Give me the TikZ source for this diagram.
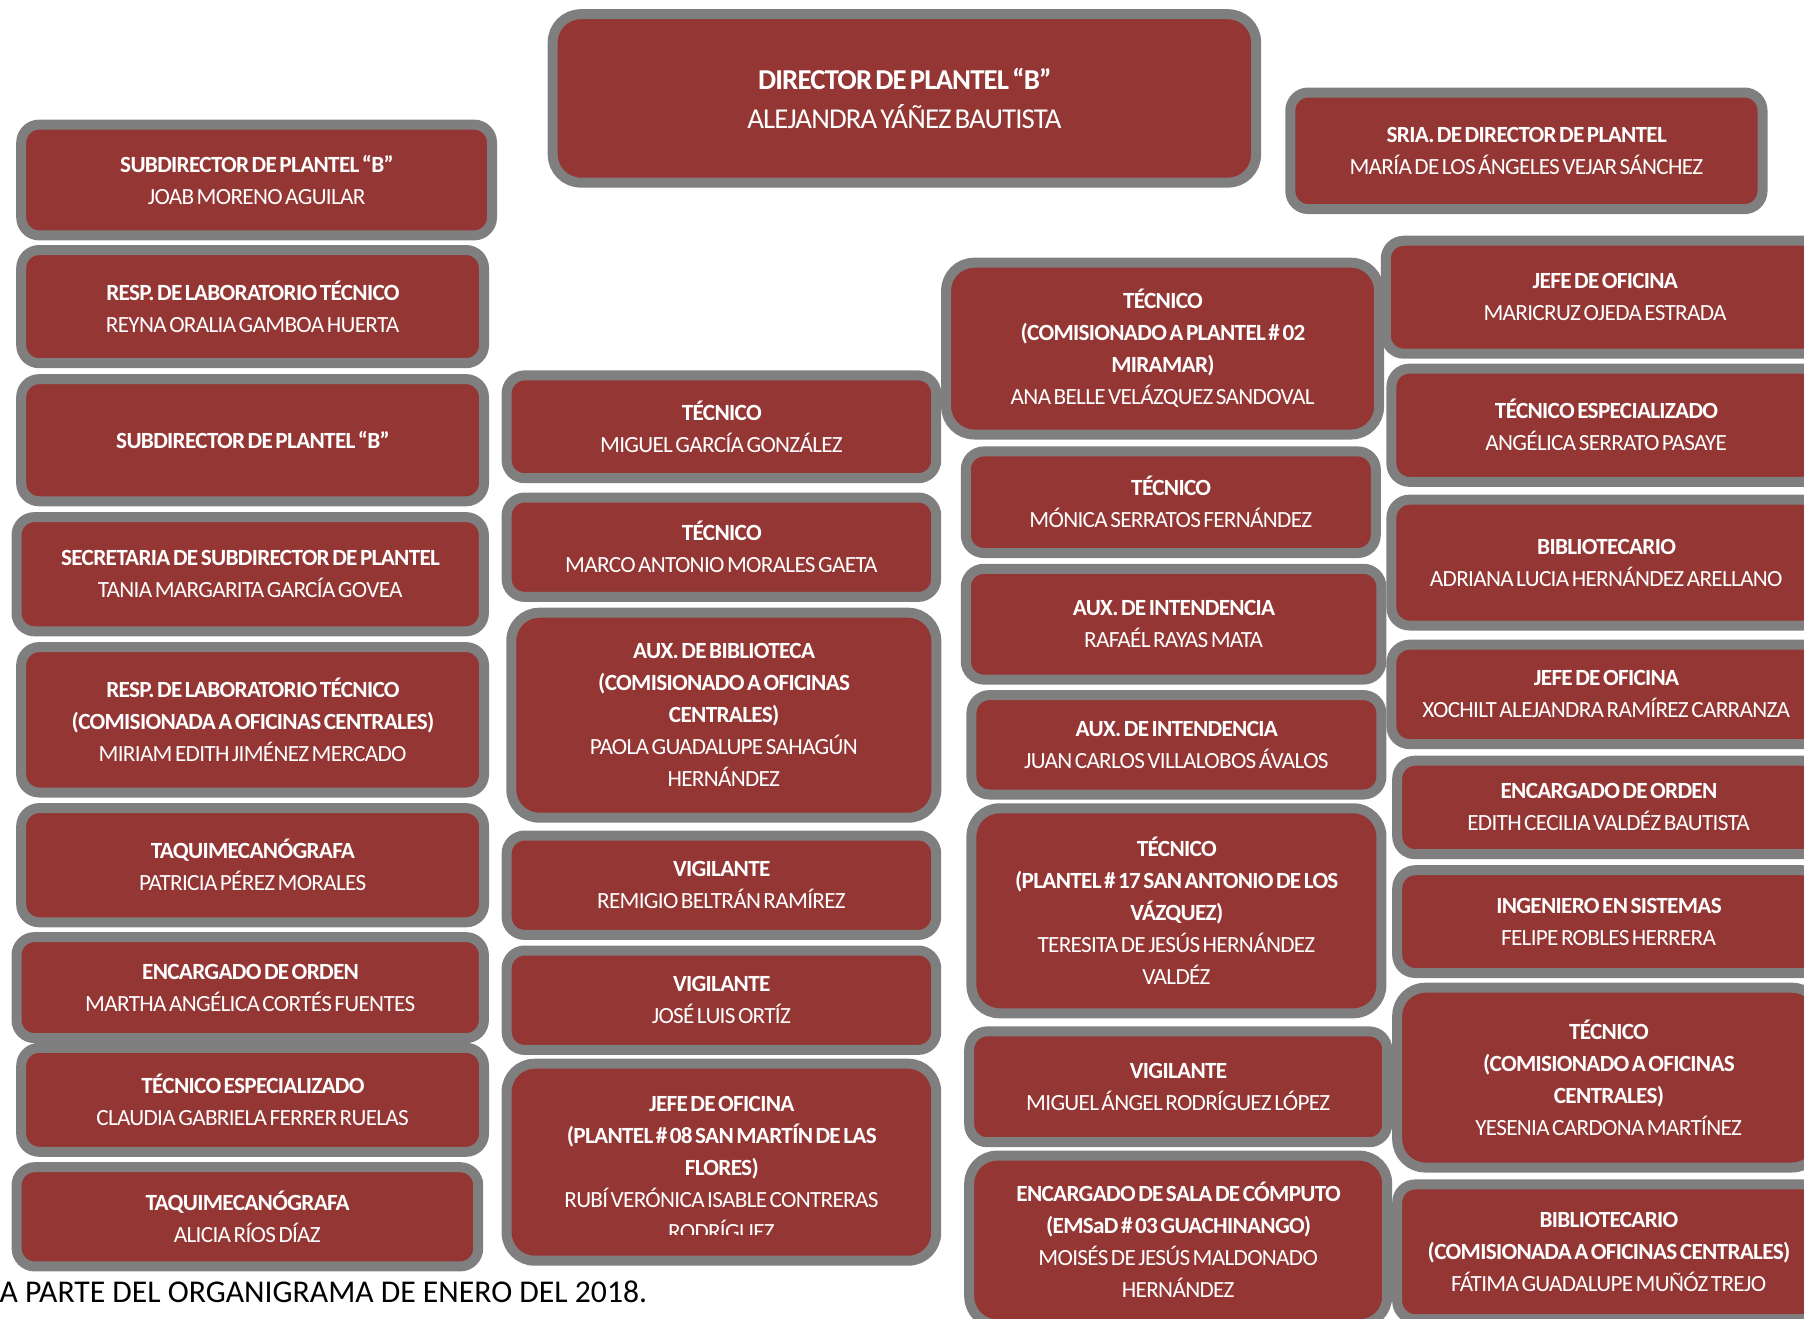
\documentclass[tikz,border=0pt]{standalone}
\usepackage{fontspec}
\setmainfont{Carlito}[LetterSpace=-3,WordSpace=0.55]
\newfontfamily\notefont{Carlito}
\definecolor{boxred}{HTML}{943634}
\definecolor{boxgrey}{HTML}{7F7F7F}
\tikzset{
  box/.style={draw=boxgrey, fill=boxred, line width=5pt, rounded corners=9pt,
    text=white, align=center, inner sep=0pt, font=\fontsize{11.6}{16}\selectfont},
  tall/.style={rounded corners=14pt},
  bignote/.style={font=\fontsize{14.4}{19.5}\selectfont},
}
\begin{document}
\begin{tikzpicture}[x=1pt,y=-1pt]
        \useasboundingbox (0,0) rectangle (902,659);
        \clip (0,0) rectangle (902,659);

        % top
        \draw (452.2, 49.2) node[box, tall, bignote, minimum width=351.7pt, minimum height=84.2pt] (director) {\textbf{DIRECTOR DE PLANTEL “B”}\\ ALEJANDRA YÁÑEZ BAUTISTA};
        \draw (763.2, 75.4) node[box, minimum width=236.1pt, minimum height=58.3pt] (sria) {\textbf{SRIA. DE DIRECTOR DE PLANTEL}\\ MARÍA DE LOS ÁNGELES VEJAR SÁNCHEZ};

        % left column
        \draw (128.3, 90.0) node[box, minimum width=235.4pt, minimum height=55.4pt] (subdir1) {\textbf{SUBDIRECTOR DE PLANTEL “B”}\\ JOAB MORENO AGUILAR};
        \draw (126.3, 153.3) node[box, minimum width=231.4pt, minimum height=56.6pt] (lab1) {\textbf{RESP. DE LABORATORIO TÉCNICO}\\ REYNA ORALIA GAMBOA HUERTA};
        \draw (126.3, 220.1) node[box, minimum width=231.4pt, minimum height=61.1pt] (subdir2) {\textbf{SUBDIRECTOR DE PLANTEL “B”}};
        \draw (125.1, 287.1) node[box, minimum width=233.7pt, minimum height=57.1pt] (secsub) {\textbf{SECRETARIA DE SUBDIRECTOR DE PLANTEL}\\ TANIA MARGARITA GARCÍA GOVEA};
        \draw (126.3, 359.9) node[box, minimum width=231.4pt, minimum height=72.7pt] (lab2) {\textbf{RESP. DE LABORATORIO TÉCNICO}\\ \textbf{(COMISIONADA A OFICINAS CENTRALES)}\\ MIRIAM EDITH JIMÉNEZ MERCADO};
        \draw (126.3, 432.6) node[box, minimum width=231.4pt, minimum height=57.1pt] (taqui1) {\textbf{TAQUIMECANÓGRAFA}\\ PATRICIA PÉREZ MORALES};
        \draw (125.1, 493.8) node[box, minimum width=233.7pt, minimum height=50.5pt] (orden1) {\textbf{ENCARGADO DE ORDEN}\\ MARTHA ANGÉLICA CORTÉS FUENTES};
        \draw (126.3, 549.9) node[box, minimum width=231.4pt, minimum height=52.0pt] (tecesp1) {\textbf{TÉCNICO ESPECIALIZADO}\\ CLAUDIA GABRIELA FERRER RUELAS};
        \draw (123.7, 608.4) node[box, minimum width=230.8pt, minimum height=49.6pt] (taqui2) {\textbf{TAQUIMECANÓGRAFA}\\ ALICIA RÍOS DÍAZ};

        % middle column
        \draw (360.7, 213.4) node[box, minimum width=214.8pt, minimum height=51.4pt] (tec1) {\textbf{TÉCNICO}\\ MIGUEL GARCÍA GONZÁLEZ};
        \draw (360.7, 273.6) node[box, minimum width=214.8pt, minimum height=49.7pt] (tec2) {\textbf{TÉCNICO}\\ MARCO ANTONIO MORALES GAETA};
        \draw (361.9, 357.6) node[box, tall, minimum width=212.5pt, minimum height=102.5pt] (auxbib) {\textbf{AUX. DE BIBLIOTECA}\\ \textbf{(COMISIONADO A OFICINAS}\\ \textbf{CENTRALES)}\\ PAOLA GUADALUPE SAHAGÚN\\ HERNÁNDEZ};
        \draw (360.7, 442.6) node[box, minimum width=214.8pt, minimum height=49.7pt] (vig1) {\textbf{VIGILANTE}\\ REMIGIO BELTRÁN RAMÍREZ};
        \draw (360.7, 500.1) node[box, minimum width=214.8pt, minimum height=49.7pt] (vig2) {\textbf{VIGILANTE}\\ JOSÉ LUIS ORTÍZ};
        \draw (360.7, 581.1) node[box, tall, minimum width=214.8pt, minimum height=98.5pt] (jefe1) {};
        \begin{scope}
          \clip (250, 530) rectangle (472, 617);
          \draw (360.7, 584) node[box, draw=none, fill=none] (jefe1txt) {\textbf{JEFE DE OFICINA}\\ \textbf{(PLANTEL \# 08 SAN MARTÍN DE LAS}\\ \textbf{FLORES)}\\ RUBÍ VERÓNICA ISABLE CONTRERAS\\ RODRÍGUEZ};
        \end{scope}

        % center-right column
        \draw (581.3, 174.3) node[box, tall, minimum width=216.5pt, minimum height=85.9pt] (tec3) {\textbf{TÉCNICO}\\ \textbf{(COMISIONADO A PLANTEL \# 02}\\ \textbf{MIRAMAR)}\\ ANA BELLE VELÁZQUEZ SANDOVAL};
        \draw (585.4, 251.1) node[box, minimum width=205pt, minimum height=50.8pt] (tec4) {\textbf{TÉCNICO}\\ MÓNICA SERRATOS FERNÁNDEZ};
        \draw (586.8, 312.1) node[box, minimum width=207.8pt, minimum height=55.4pt] (int1) {\textbf{AUX. DE INTENDENCIA}\\ RAFAÉL RAYAS MATA};
        \draw (588.2, 372.4) node[box, minimum width=205pt, minimum height=49.7pt] (int2) {\textbf{AUX. DE INTENDENCIA}\\ JUAN CARLOS VILLALOBOS ÁVALOS};
        \draw (588.2, 455.4) node[box, tall, minimum width=205pt, minimum height=102.5pt] (tec5) {\textbf{TÉCNICO}\\ \textbf{(PLANTEL \# 17 SAN ANTONIO DE LOS}\\ \textbf{VÁZQUEZ)}\\ TERESITA DE JESÚS HERNÁNDEZ\\ VALDÉZ};
        \draw (589.1, 543.4) node[box, minimum width=209pt, minimum height=55.4pt] (vig3) {\textbf{VIGILANTE}\\ MIGUEL ÁNGEL RODRÍGUEZ LÓPEZ};
        \draw (589.1, 620.0) node[box, tall, minimum width=209pt, minimum height=84.4pt] (computo) {\textbf{ENCARGADO DE SALA DE CÓMPUTO}\\ \textbf{(EMSaD \# 03 GUACHINANGO)}\\ MOISÉS DE JESÚS MALDONADO\\ HERNÁNDEZ};

        % right column
        \draw (802.5, 148.6) node[box, minimum width=219.2pt, minimum height=56.5pt] (jefe2) {\textbf{JEFE DE OFICINA}\\ MARICRUZ OJEDA ESTRADA};
        \draw (803.1, 212.6) node[box, minimum width=214.8pt, minimum height=56.6pt] (tecesp2) {\textbf{TÉCNICO ESPECIALIZADO}\\ ANGÉLICA SERRATO PASAYE};
        \draw (803.1, 281.3) node[box, minimum width=214.8pt, minimum height=62.9pt] (biblio1) {\textbf{BIBLIOTECARIO}\\ ADRIANA LUCIA HERNÁNDEZ ARELLANO};
        \draw (803.1, 347.2) node[box, minimum width=214.8pt, minimum height=49.7pt] (jefe3) {\textbf{JEFE DE OFICINA}\\ XOCHILT ALEJANDRA RAMÍREZ CARRANZA};
        \draw (804.3, 403.7) node[box, minimum width=211.4pt, minimum height=46.8pt] (orden2) {\textbf{ENCARGADO DE ORDEN}\\ EDITH CECILIA VALDÉZ BAUTISTA};
        \draw (804.3, 460.8) node[box, minimum width=211.4pt, minimum height=51.4pt] (ing) {\textbf{INGENIERO EN SISTEMAS}\\ FELIPE ROBLES HERRERA};
        \draw (804.3, 538.8) node[box, tall, minimum width=211.4pt, minimum height=89.9pt] (tec6) {\textbf{TÉCNICO}\\ \textbf{(COMISIONADO A OFICINAS}\\ \textbf{CENTRALES)}\\ YESENIA CARDONA MARTÍNEZ};
        \draw (804.3, 625.9) node[box, minimum width=211.4pt, minimum height=67.4pt] (biblio2) {\textbf{BIBLIOTECARIO}\\ \textbf{(COMISIONADA A OFICINAS CENTRALES)}\\ FÁTIMA GUADALUPE MUÑÓZ TREJO};

        % footnote
        \draw (323.8, 646) node[anchor=east, inner sep=0pt, font=\notefont\fontsize{15.85}{18}\selectfont] (nota) {A PARTE DEL ORGANIGRAMA DE ENERO DEL 2018.};
\end{tikzpicture}
\end{document}
